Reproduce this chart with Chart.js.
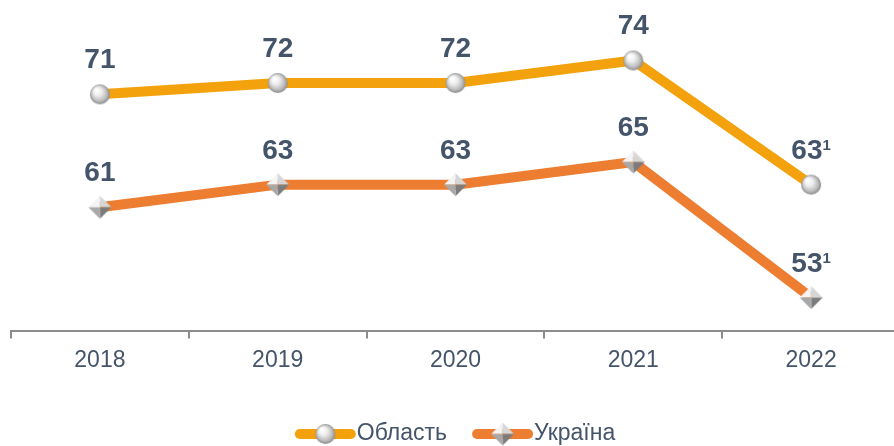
<!DOCTYPE html>
<html>
<head>
<meta charset="utf-8">
<script src="https://cdn.jsdelivr.net/npm/chart.js@4/dist/chart.umd.min.js"></script>
<style>
  html, body { margin: 0; padding: 0; background: #fff; overflow: hidden; }
  #wrap { width: 900px; height: 446px; }
</style>
</head>
<body>
<div id="wrap"><canvas id="chart"></canvas></div>
<script>
// data
var years = ['2018', '2019', '2020', '2021', '2022'];
var oblast = [71, 72, 72, 74, 63];
var ukraine = [61, 63, 63, 65, 53];
var footnotes = ['', '', '', '', '1'];   // superscript marks next to the values
var seriesNames = ['Область', 'Україна'];

var textColor = '#44546A';
var oblastColor = '#F3A10C';
var ukraineColor = '#ED7D31';
var fontFamily = '"Liberation Sans", Arial, sans-serif';

// shiny ball marker
function makeBall(r) {
  var c = document.createElement('canvas');
  c.width = c.height = r * 2 + 2;
  var ctx = c.getContext('2d');
  var m = r + 1;
  var g = ctx.createRadialGradient(m - r * 0.35, m - r * 0.45, 1, m, m, r);
  g.addColorStop(0, '#ffffff');
  g.addColorStop(0.35, '#eeeeee');
  g.addColorStop(0.75, '#bdbdbd');
  g.addColorStop(1, '#8a8a8a');
  ctx.fillStyle = g;
  ctx.beginPath();
  ctx.arc(m, m, r, 0, Math.PI * 2);
  ctx.fill();
  return c;
}

// bevelled diamond marker
function makeDiamond(r) {
  var c = document.createElement('canvas');
  c.width = c.height = r * 2 + 2;
  var ctx = c.getContext('2d');
  var m = r + 1;
  var faces = [
    [[m, m - r], [m - r, m], '#f4f4f4'],
    [[m, m - r], [m + r, m], '#d6d6d6'],
    [[m + r, m], [m, m + r], '#7c7c7c'],
    [[m - r, m], [m, m + r], '#a8a8a8']
  ];
  faces.forEach(function (f) {
    ctx.fillStyle = f[2];
    ctx.beginPath();
    ctx.moveTo(m, m);
    ctx.lineTo(f[0][0], f[0][1]);
    ctx.lineTo(f[1][0], f[1][1]);
    ctx.closePath();
    ctx.fill();
  });
  return c;
}

var ball = makeBall(10);
var diamond = makeDiamond(11.5);

// value labels above the points
var valueLabels = {
  id: 'valueLabels',
  afterDatasetsDraw: function (chart) {
    var ctx = chart.ctx;
    ctx.save();
    chart.data.datasets.forEach(function (ds, i) {
      var meta = chart.getDatasetMeta(i);
      meta.data.forEach(function (pt, j) {
        var main = String(ds.data[j]);
        var sup = footnotes[j];
        ctx.font = 'bold 28px ' + fontFamily;
        var w1 = ctx.measureText(main).width;
        ctx.font = 'bold 15px ' + fontFamily;
        var w2 = sup ? ctx.measureText(sup).width : 0;
        var x0 = pt.x - (w1 + w2) / 2;
        ctx.fillStyle = textColor;
        ctx.textAlign = 'left';
        ctx.textBaseline = 'alphabetic';
        ctx.font = 'bold 28px ' + fontFamily;
        ctx.fillText(main, x0, pt.y - 26);
        if (sup) {
          ctx.font = 'bold 15px ' + fontFamily;
          ctx.fillText(sup, x0 + w1, pt.y - 35);
        }
      });
    });
    ctx.restore();
  }
};

// legend: line segment with marker, then the name
var lineLegend = {
  id: 'lineLegend',
  afterDraw: function (chart) {
    var ctx = chart.ctx;
    ctx.save();
    ctx.font = '23px ' + fontFamily;
    var iconW = 61, gap = 1, between = 25;
    var tw = seriesNames.map(function (n) { return ctx.measureText(n).width; });
    var total = iconW * 2 + gap * 2 + tw[0] + tw[1] + between;
    var x = 455 - total / 2;
    var y = 434;
    var cols = [oblastColor, ukraineColor];
    var marks = [ball, diamond];
    for (var i = 0; i < 2; i++) {
      ctx.strokeStyle = cols[i];
      ctx.lineWidth = 10;
      ctx.lineCap = 'round';
      ctx.beginPath();
      ctx.moveTo(x + 5, y);
      ctx.lineTo(x + iconW - 5, y);
      ctx.stroke();
      var mk = marks[i];
      ctx.drawImage(mk, x + iconW / 2 - mk.width / 2, y - mk.height / 2);
      ctx.fillStyle = textColor;
      ctx.textBaseline = 'middle';
      ctx.fillText(seriesNames[i], x + iconW + gap, y);
      x += iconW + gap + tw[i] + between;
    }
    ctx.restore();
  }
};

new Chart(document.getElementById('chart'), {
  type: 'line',
  data: {
    labels: years,
    datasets: [
      {
        label: seriesNames[0],
        data: oblast,
        borderColor: oblastColor,
        backgroundColor: oblastColor,
        borderWidth: 10,
        pointStyle: ball,
        tension: 0
      },
      {
        label: seriesNames[1],
        data: ukraine,
        borderColor: ukraineColor,
        backgroundColor: ukraineColor,
        borderWidth: 10,
        pointStyle: diamond,
        tension: 0
      }
    ]
  },
  options: {
    responsive: true,
    maintainAspectRatio: false,
    animation: false,
    layout: { autoPadding: false, padding: { left: 11, right: 0, top: 4, bottom: 64 } },
    plugins: {
      legend: { display: false },
      tooltip: { enabled: false }
    },
    scales: {
      x: {
        offset: true,
        border: { color: '#8c8c8c', width: 2 },
        grid: {
          offset: true,
          drawOnChartArea: false,
          drawTicks: true,
          tickLength: 7,
          color: '#8c8c8c',
          lineWidth: 2
        },
        ticks: {
          color: textColor,
          font: { family: fontFamily, size: 23 },
          padding: 8
        }
      },
      y: {
        display: false,
        min: 50,
        max: 79
      }
    }
  },
  plugins: [valueLabels, lineLegend]
});
</script>
</body>
</html>
